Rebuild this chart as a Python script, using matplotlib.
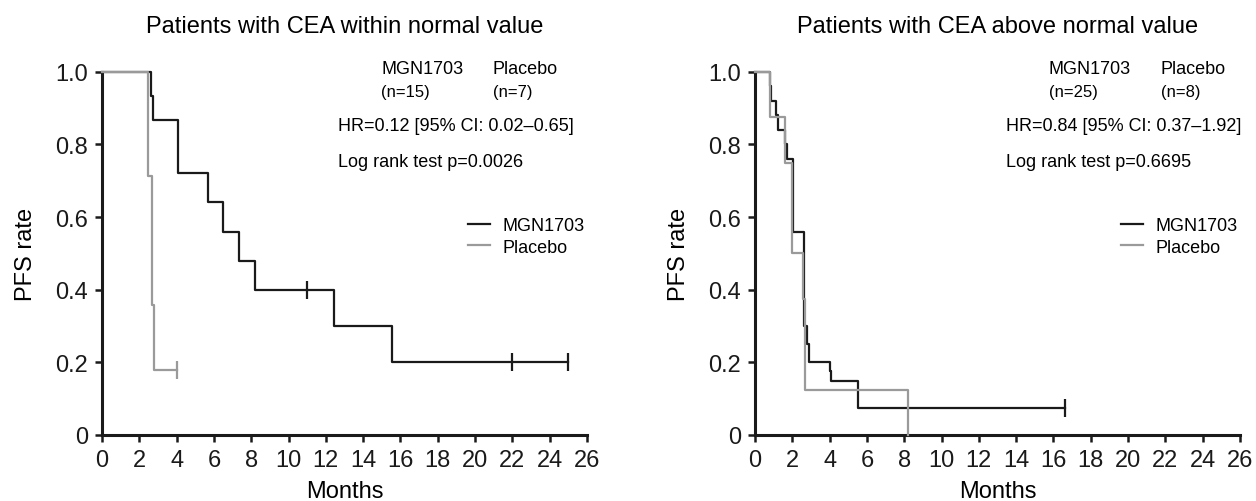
import matplotlib
matplotlib.use("Agg")
import matplotlib.pyplot as plt

plt.rcParams['font.family'] = ['Liberation Sans', 'DejaVu Sans']

# Left panel: CEA within normal value
left_mgn_t = [0, 2.6, 2.72, 4.1, 5.7, 6.5, 7.35, 8.2, 12.45, 15.55, 25.0]
left_mgn_s = [1.0, 0.933, 0.867, 0.72, 0.64, 0.56, 0.48, 0.40, 0.30, 0.20, 0.20]
left_mgn_cens_t = [11.0, 22.0, 25.0]
left_mgn_cens_s = [0.40, 0.20, 0.20]

left_pla_t = [0, 2.48, 2.66, 2.8, 4.0]
left_pla_s = [1.0, 0.714, 0.357, 0.178, 0.178]
left_pla_cens_t = [4.0]
left_pla_cens_s = [0.178]

# Right panel: CEA above normal value
right_mgn_t = [0, 0.82, 0.86, 1.1, 1.25, 1.62, 1.72, 2.02, 2.63, 2.78, 2.92, 4.0, 4.07, 5.5, 16.6]
right_mgn_s = [1.0, 0.96, 0.92, 0.88, 0.84, 0.80, 0.76, 0.56, 0.30, 0.25, 0.20, 0.175, 0.15, 0.075, 0.075]
right_mgn_cens_t = [16.6]
right_mgn_cens_s = [0.075]

right_pla_t = [0, 0.8, 1.6, 2.0, 2.6, 2.68, 8.2]
right_pla_s = [1.0, 0.875, 0.75, 0.5, 0.375, 0.125, 0.0]

titles = ["Patients with CEA within normal value", "Patients with CEA above normal value"]
n_mgn = ["(n=15)", "(n=25)"]
n_pla = ["(n=7)", "(n=8)"]
hr_text = ["HR=0.12 [95% CI: 0.02\u20130.65]", "HR=0.84 [95% CI: 0.37\u20131.92]"]
p_text = ["Log rank test p=0.0026", "Log rank test p=0.6695"]
xticks = list(range(0, 27, 2))
yticks = [0, 0.2, 0.4, 0.6, 0.8, 1.0]
ytick_labels = ["0", "0.2", "0.4", "0.6", "0.8", "1.0"]

BLACK = '#1a1a1a'
GREY = '#9a9a9a'

fig = plt.figure(figsize=(12.56, 5.02), dpi=100)
ax_l = fig.add_axes([102 / 1256, 66 / 502, 485 / 1256, 363.3 / 502])
ax_r = fig.add_axes([755 / 1256, 66 / 502, 485 / 1256, 363.3 / 502])

panels = [
    (ax_l, left_mgn_t, left_mgn_s, left_mgn_cens_t, left_mgn_cens_s,
     left_pla_t, left_pla_s, left_pla_cens_t, left_pla_cens_s, (14.96, 20.96, 12.65)),
    (ax_r, right_mgn_t, right_mgn_s, right_mgn_cens_t, right_mgn_cens_s,
     right_pla_t, right_pla_s, [], [], (15.76, 21.75, 13.44)),
]

for i, (ax, mt, ms, mct, mcs, pt, ps, pct, pcs, xpos) in enumerate(panels):
    ax.step(mt, ms, where='post', color=BLACK, lw=1.6, label='MGN1703', clip_on=False, zorder=3)
    ax.step(pt, ps, where='post', color=GREY, lw=1.6, label='Placebo', clip_on=False, zorder=4)
    ax.plot(mct, mcs, ls='none', marker='|', ms=13, mew=1.6, color=BLACK, clip_on=False, zorder=3)
    if pct:
        ax.plot(pct, pcs, ls='none', marker='|', ms=13, mew=1.6, color=GREY, clip_on=False, zorder=4)

    ax.set_xlim(0, 26)
    ax.set_ylim(0, 1.0)
    ax.set_xticks(xticks)
    ax.set_yticks(yticks)
    ax.set_yticklabels(ytick_labels)
    for side in ['top', 'right']:
        ax.spines[side].set_visible(False)
    for side in ['left', 'bottom']:
        ax.spines[side].set_linewidth(2.2)
        ax.spines[side].set_color(BLACK)
    ax.tick_params(direction='out', length=5, width=1.8, pad=5, labelsize=17, colors=BLACK)

    ax.set_xlabel('Months', fontsize=17)
    ax.xaxis.set_label_coords(0.5, -0.125)
    ax.set_ylabel('PFS rate', fontsize=17)
    ax.yaxis.set_label_coords(-0.135, 0.5)

    ax.text(0.5, 1.127, titles[i], transform=ax.transAxes, ha='center', va='center', fontsize=17)

    mx, px, hx = xpos
    ax.text(mx, 1.01, 'MGN1703', ha='left', va='center', fontsize=13)
    ax.text(px, 1.01, 'Placebo', ha='left', va='center', fontsize=13)
    ax.text(mx, 0.945, n_mgn[i], ha='left', va='center', fontsize=12)
    ax.text(px, 0.945, n_pla[i], ha='left', va='center', fontsize=12)
    ax.text(hx, 0.851, hr_text[i], ha='left', va='center', fontsize=13)
    ax.text(hx, 0.752, p_text[i], ha='left', va='center', fontsize=13)

    ax.legend(loc='upper left', bbox_to_anchor=(0.755, 0.60), frameon=False, fontsize=13,
              borderpad=0, borderaxespad=0, handlelength=1.22, handletextpad=0.67,
              labelspacing=0.25)

fig.savefig('out.png', dpi=100)
